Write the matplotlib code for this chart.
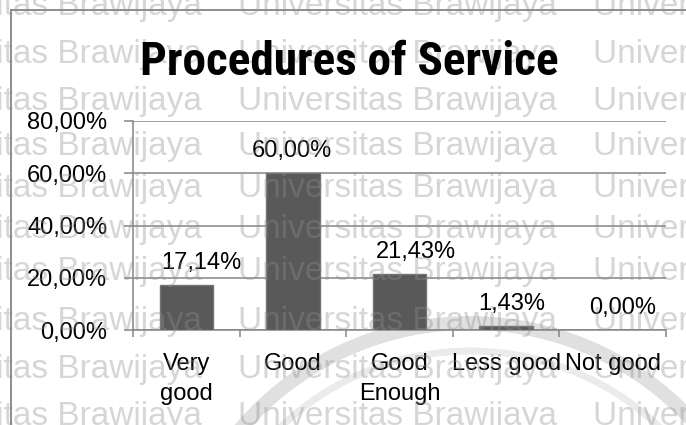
import matplotlib
matplotlib.use("Agg")
import matplotlib.pyplot as plt
from matplotlib.patches import Arc
from matplotlib.lines import Line2D

# Survey results
categories = ["Very\ngood", "Good", "Good\nEnough", "Less good", "Not good"]
percentages = [17.14, 60.00, 21.43, 1.43, 0.00]
y_ticks = [0, 20, 40, 60, 80]
title = "Procedures of Service"
watermark = "Universitas Brawijaya"

# small horizontal nudges (points) for the value labels
label_dx = [11, -1, 12, 4, 7]

plt.rcParams["font.family"] = ["Liberation Sans", "DejaVu Sans"]

W, H = 686, 425
fig = plt.figure(figsize=(W / 100, H / 100), dpi=100)
fig.patch.set_facecolor("white")


def px(x, y):
    # pixel position (from top-left) to figure fraction
    return x / W, 1 - y / H


# faint logo arcs in the background
for r, lw, col in [(302, 10, "#e0e0e0"), (274, 5, "#ebebeb")]:
    cx, cy = px(470, 625)
    fig.add_artist(Arc((cx, cy), 2 * r / W, 2 * r / H, theta1=20, theta2=160,
                       transform=fig.transFigure, lw=lw, color=col, zorder=-2))

# outer chart frame
frame_col = "#858585"
x0, y0 = px(11, 10)
fig.add_artist(Line2D([x0, x0], [y0, 0], transform=fig.transFigure,
                      color=frame_col, lw=1.3, zorder=-1))
fig.add_artist(Line2D([x0, 1], [y0, y0], transform=fig.transFigure,
                      color=frame_col, lw=1.3, zorder=-1))

left, top = px(133, 121)
right, bottom = px(666, 330)
ax = fig.add_axes([left, bottom, right - left, top - bottom])
ax.patch.set_visible(False)

grid_col = "#858585"
x = range(len(categories))
ax.bar(x, percentages, width=0.5, color="#595959", edgecolor="#747474",
       linewidth=1.0, zorder=3)

for i, v in enumerate(percentages):
    ax.annotate(f"{v:.2f}%".replace(".", ","), xy=(i, v),
                xytext=(label_dx[i], 11.5), textcoords="offset points",
                ha="center", va="baseline", fontsize=17, color="black")

ax.set_xlim(-0.5, len(categories) - 0.5)
ax.set_ylim(0, 80)
ax.set_yticks(y_ticks)
ax.set_yticklabels([f"{v:.2f}%".replace(".", ",") for v in y_ticks])
ax.set_xticks(list(x))
ax.set_xticklabels(categories, linespacing=1.5)
ax.set_xticks([i - 0.5 for i in range(len(categories) + 1)], minor=True)

ax.tick_params(axis="y", length=6.5, width=1.1, color=grid_col, pad=12,
               labelsize=17, labelcolor="black")
ax.tick_params(axis="x", which="major", length=0, pad=16.5, labelsize=17)
ax.tick_params(axis="x", which="minor", length=5, width=1.1, color=grid_col)

ax.yaxis.grid(True, color=grid_col, lw=1.1)
ax.set_axisbelow(True)
for s in ["top", "right"]:
    ax.spines[s].set_visible(False)
for s in ["left", "bottom"]:
    ax.spines[s].set_color(grid_col)
    ax.spines[s].set_linewidth(1.1)

# repeated watermark text laid over the chart
for yb in [15, 63, 110, 155, 197, 238, 280, 330, 378, 425]:
    for xs in [-117, 238, 593]:
        tx, ty = px(xs, yb)
        fig.text(tx, ty, watermark, fontsize=24, color="#8e8e8e", alpha=0.36,
                 ha="left", va="baseline", zorder=2)

tx, ty = px(349, 75)
fig.text(tx, ty, title, fontsize=34, fontweight="bold",
         ha="center", va="baseline", family=["Roboto Condensed", "Roboto"],
         color="black", zorder=4)

fig.savefig("out.png", dpi=100)
